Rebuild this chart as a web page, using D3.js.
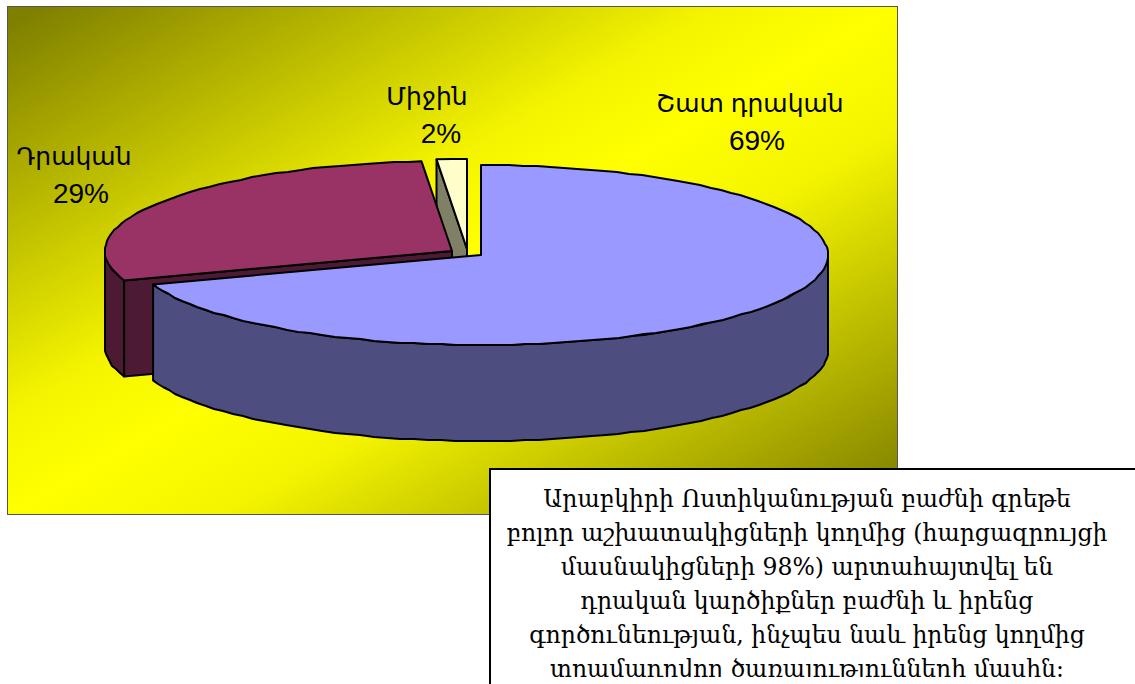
<!DOCTYPE html>
<html>
<head>
<meta charset="utf-8">
<script src="https://cdn.jsdelivr.net/npm/d3@7"></script>
<style>
  html, body { margin: 0; padding: 0; background: #fff; overflow: hidden; }
  svg { display: block; }
</style>
</head>
<body>
<svg width="1135" height="684"></svg>
<script>
// Slice data (labels are rounded in the original)
const categories = ["Շատ դրական", "Դրական", "Միջին"];
const sliceValues = [69.7, 28.9, 1.4];
const percentLabels = ["69%", "29%", "2%"];
const noteLines = [
  "Արաբկիրի Ոստիկանության բաժնի գրեթե",
  "բոլոր աշխատակիցների կողմից (հարցազրույցի",
  "մասնակիցների 98%) արտահայտվել են",
  "դրական կարծիքներ բաժնի և իրենց",
  "գործունեության, ինչպես նաև իրենց կողմից",
  "տրամադրվող ծառայությունների մասին:"
];

const svg = d3.select("svg");

const topColors = ["#9999ff", "#993366", "#ffffcc"];
const sideColors = ["#4d4d80", "#4d1a33", "#808066"];

// Exploded slice centres and where each label sits
const centers = [[481, 255], [452, 251], [467, 249]];
const labelPos = [[750, 112, 757], [74, 165, 81], [427, 105, 441]];
const rx = 347, ry = 90, depth = 96;

// Background panel with diagonal gradient, yellow band in the middle
const defs = svg.append("defs");
const grad = defs.append("linearGradient")
  .attr("id", "bg").attr("x1", 0).attr("y1", 0).attr("x2", 1).attr("y2", 1);
grad.append("stop").attr("offset", 0.02).attr("stop-color", "#808000");
grad.append("stop").attr("offset", 0.4).attr("stop-color", "#f4f400");
grad.append("stop").attr("offset", 0.5).attr("stop-color", "#ffff00");
grad.append("stop").attr("offset", 0.62).attr("stop-color", "#f4f400");
grad.append("stop").attr("offset", 0.98).attr("stop-color", "#808000");

// note box cuts its text off just above the page bottom
defs.append("clipPath").attr("id", "noteClip")
  .append("rect").attr("x", 490).attr("y", 469).attr("width", 645).attr("height", 208);

svg.append("rect")
  .attr("x", 7.5).attr("y", 6.5).attr("width", 890).attr("height", 508)
  .attr("fill", "url(#bg)").attr("stroke", "#555").attr("stroke-width", 1);

const arcs = d3.pie().sort(null)(sliceValues);

const line = d3.line();

// point on the flattened rim, angle clockwise from the top like d3.pie
function rim(i, a, drop) {
  return [centers[i][0] + rx * Math.sin(a), centers[i][1] - ry * Math.cos(a) + (drop || 0)];
}

// snapped to whole pixels so the edge gets the slightly stepped look of the original
function rimPoints(i, a0, a1, drop) {
  const n = Math.max(1, Math.round(Math.abs(a1 - a0) / 0.04));
  return d3.range(n + 1).map(function(k) {
    const p = rim(i, a0 + (a1 - a0) * k / n, drop);
    return (k === 0 || k === n) ? p : [Math.round(p[0]), Math.round(p[1])];
  });
}

function drawFace(points, color) {
  svg.append("path")
    .attr("d", line(points) + "Z")
    .attr("fill", color)
    .attr("stroke", "#000")
    .attr("stroke-width", 2)
    .attr("stroke-linejoin", "round");
}

// outer wall between two angles
function drawRimWall(i, a0, a1) {
  drawFace(rimPoints(i, a0, a1, 0).concat(rimPoints(i, a1, a0, depth)), sideColors[i]);
}

// flat wall running from the centre out to the rim
function drawCutWall(i, a) {
  const c = centers[i], p = rim(i, a);
  drawFace([c, p, [p[0], p[1] + depth], [c[0], c[1] + depth]], sideColors[i]);
}

function drawTop(i) {
  drawFace([centers[i]].concat(rimPoints(i, arcs[i].startAngle, arcs[i].endAngle)), topColors[i]);
}

// back to front: small slice, then the left one, then the big one
drawCutWall(2, arcs[2].startAngle);
drawTop(2);

drawCutWall(1, arcs[1].startAngle);
drawRimWall(1, arcs[1].startAngle, 1.5 * Math.PI);
drawTop(1);

drawRimWall(0, Math.PI / 2, arcs[0].endAngle);
drawTop(0);

// Slice labels
categories.forEach(function(name, i) {
  const p = labelPos[i];
  svg.append("text").attr("x", p[0]).attr("y", p[1])
    .attr("text-anchor", "middle")
    .style("font-family", "'Liberation Sans', 'DejaVu Sans', sans-serif")
    .style("font-size", "25px")
    .text(name);
  svg.append("text").attr("x", p[2]).attr("y", p[1] + 38)
    .attr("text-anchor", "middle")
    .style("font-family", "'Liberation Sans', 'DejaVu Sans', sans-serif")
    .style("font-size", "28px")
    .text(percentLabels[i]);
});

// Note box, runs off the page at the right and bottom
svg.append("rect")
  .attr("x", 490).attr("y", 469).attr("width", 700).attr("height", 300)
  .attr("fill", "#fff").attr("stroke", "#000").attr("stroke-width", 2);

svg.append("g")
  .attr("clip-path", "url(#noteClip)")
  .selectAll("text")
  .data(noteLines)
  .join("text")
  .attr("x", 807)
  .attr("y", (d, i) => 507 + i * 34)
  .attr("text-anchor", "middle")
  .style("font-family", "'DejaVu Serif', 'Liberation Serif', serif")
  .style("font-size", "23.5px")
  .text(d => d);
</script>
</body>
</html>
